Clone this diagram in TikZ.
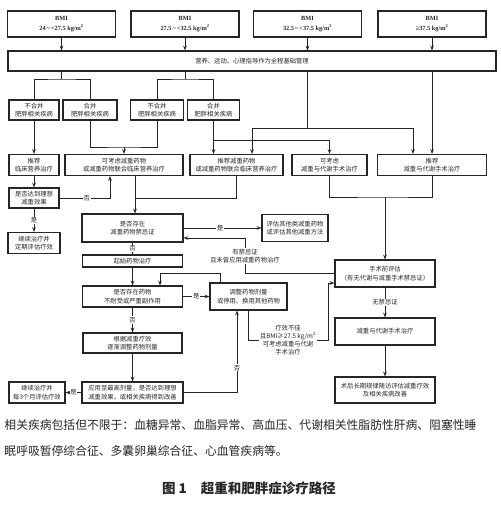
\documentclass[tikz,border=0pt]{standalone}
\usepackage{fontspec}
\setmainfont{Noto Sans CJK SC}
\newfontfamily\bmifont{Liberation Serif}
\usetikzlibrary{arrows.meta}

\begin{document}
\begin{tikzpicture}[x=1pt,y=-1pt,>={Stealth[length=4.8pt,width=3.6pt]},
  line width=0.95pt,color=black!85,
  flow/.style={draw,line width=1.05pt,align=center,inner sep=0pt,
    font=\fontsize{6.3}{8.6}\selectfont},
  bmibox/.style={flow,minimum width=108,minimum height=26,
    font=\bmifont\bfseries\fontsize{6.3}{9.5}\selectfont},
  tag/.style={fill=white,inner sep=0.8pt,align=center,
    font=\fontsize{6.3}{8}\selectfont}]
\useasboundingbox (0,0) rectangle (500,505);
\def\rh{21}
% ---- 四个 BMI 分组 + 基础管理 ----
\foreach \n/\x/\lbl in {bmiA/61.5/{24\,\textasciitilde\,<27.5},bmiB/185/{27.5\,\textasciitilde\,<32.5},
    bmiC/307.5/{32.5\,\textasciitilde\,<37.5},bmiD/432/{≥37.5}}{
  \node[bmibox] (\n) at (\x,24) {BMI\\\lbl\ kg/m\textsuperscript{2}};}
\node[flow,minimum width=488,minimum height=20] (base) at (252,61) {营养、运动、心理指导作为全程基础管理};
\foreach \n in {bmiA,bmiB,bmiC,bmiD}{
  \draw[->] (\n.south) -- (\n.south |- base.north);}
% ---- 是否合并相关疾病 ----
\node[flow,minimum width=50,minimum height=20] (nA) at (34,110) {不合并\\肥胖相关疾病};
\node[flow,minimum width=54,minimum height=20] (nB) at (90,110) {合并\\肥胖相关疾病};
\node[flow,minimum width=53,minimum height=20] (nC) at (157,110) {不合并\\肥胖相关疾病};
\node[flow,minimum width=52,minimum height=20] (nD) at (213.5,110) {合并\\肥胖相关疾病};
\coordinate (jA) at (61.5,79);
\coordinate (jB) at (185,79);
\draw (bmiA.south |- base.south) -- (jA);
\draw (bmiB.south |- base.south) -- (jB);
\draw (nA.north) |- (jA) -| (nB.north);
\draw (nC.north) |- (jB) -| (nD.north);
% ---- 治疗建议 ----
\node[flow,minimum width=50,minimum height=\rh] (tA) at (34,165) {推荐\\临床营养治疗};
\node[flow,minimum width=118,minimum height=\rh] (tB) at (124,165) {可考虑减重药物\\或减重药物联合临床营养治疗};
\node[flow,minimum width=93,minimum height=\rh] (tC) at (236.5,165) {推荐减重药物\\或减重药物联合临床营养治疗};
\node[flow,minimum width=75,minimum height=\rh] (tD) at (329.5,165) {可考虑\\减重与代谢手术治疗};
\node[flow,minimum width=109,minimum height=\rh] (tE) at (432,165) {推荐\\减重与代谢手术治疗};
\draw[->] (nA.south) -- (tA.north);
\coordinate (jC) at (124,147);
\draw (nB.south) |- (jC) -| (nC.south);
\draw[->] (jC) -- (tB.north);
\draw[->] (nD.south) -- (nD.south |- tC.north);
\coordinate (jD) at (213.5,140);
\draw[->] (jD) -| (tD.north);
\coordinate (jE) at (307.5,128);
\coordinate (jE1) at (252,128);
\coordinate (jE2) at (413,128);
\draw (bmiC.south |- base.south) -- (jE);
\draw (jE1) -- (jE2);
\draw[->] (jE1) -- (jE1 |- tC.north);
\draw[->] (jE2) -- (jE2 |- tE.north);
\draw[->] (bmiD.south |- base.south) -- (tE.north);
% ---- 营养治疗分支 ----
\node[flow,minimum width=50,minimum height=20] (goalA) at (34,198) {是否达到理想\\减重效果};
\node[flow,minimum width=52,minimum height=\rh] (keepA) at (34,243) {继续治疗并\\定期评估疗效};
\draw[->] (tA.south) -- (goalA.north);
\draw[->] (goalA.south) -- node[tag]{是} (keepA.north);
\draw[->] (goalA.east) -| node[tag,pos=0.27]{否} ([xshift=-14pt]tB.south);
% ---- 药物治疗分支 ----
\node[flow,minimum width=101,minimum height=28] (contra) at (132.5,228) {是否存在\\减重药物禁忌证};
\node[flow,minimum width=66,minimum height=27] (other) at (295,228) {评估其他类减重药物\\或评估其他减重方法};
\coordinate (jF) at (135,198);
\draw (tC.south) |- (jF);
\draw[->] (jF |- tB.south) -- (jF |- contra.north);
\draw[->] (contra.east) -- node[tag,pos=0.47]{是} (other.west);
\node[flow,minimum width=100,minimum height=12] (start) at (132.5,261) {起始药物治疗};
\node[flow,minimum width=100,minimum height=\rh] (intol) at (132.5,296.5) {是否存在药物\\不耐受或严重副作用};
\node[flow,minimum width=77,minimum height=27] (adjust) at (248.5,296.5) {调整药物剂量\\或停用、换用其他药物};
\node[flow,minimum width=99,minimum height=20] (dose) at (132.5,343) {根据减重疗效\\逐渐调整药物剂量};
\node[flow,minimum width=101,minimum height=\rh] (maxd) at (132.5,392.5) {应用至最高剂量，是否达到理想\\减重效果，或相关疾病得到改善};
\node[flow,minimum width=56,minimum height=\rh] (keepB) at (37,392.5) {继续治疗并\\每3个月评估疗效};
\draw[->] (contra.south) -- node[tag]{否} (start.north);
\draw[->] (start.south) -- (intol.north);
\draw[->] (intol.east) -- node[tag]{是} (adjust.west);
\coordinate (jI) at (160,273);
\coordinate (jJ) at (220,273);
\draw[->] (jJ |- adjust.north) -- (jJ) -- (jI) -- (jI |- intol.north);
\draw[->] (intol.south) -- node[tag]{否} (dose.north);
\draw[->] (dose.south) -- (maxd.north);
\draw[->] (maxd.west) -- node[tag]{是} (keepB.east);
\draw[->] (maxd.east) -| node[tag,pos=0.65]{否} ([xshift=-11.5pt]adjust.south);
% ---- 手术分支 ----
\node[flow,minimum width=100,minimum height=27] (pre) at (385,273.5) {手术前评估\\（有无代谢与减重手术禁忌证）};
\node[flow,minimum width=100,minimum height=27] (surg) at (385,331.5) {减重与代谢手术治疗};
\node[flow,minimum width=100,minimum height=26] (follow) at (385,390) {术后长期规律随访评估减重疗效\\及相关疾病改善};
\coordinate (jH) at (385,197);
\draw (tD.south) |- (jH) -| (tE.south);
\draw[->] (jH) -- (pre.north);
\coordinate (jG) at (245,238);
\draw[->] (pre.west) -| (jG) -- (jG -| contra.east);
\node[tag] (ban) at (245,256) {有禁忌证\\且未曾应用减重药物治疗};
\coordinate (jL) at (248.5,340);
\coordinate (jK) at (328,283);
\draw[->] (adjust.south) -- (jL) -| (jK) -- (jK -| pre.west);
\node[tag] (poor) at (288,340) {疗效不佳\\且BMI≥27.5 kg/m\textsuperscript{2}\\可考虑减重与代谢\\手术治疗};
\draw[->] (pre.south) -- node[tag]{无禁忌证} (surg.north);
\draw[->] (surg.south) -- (follow.north);
% ---- 注释与图题 ----
\node[anchor=west,align=left,inner sep=0pt,font=\fontsize{11.8}{26}\selectfont] (note) at (4,438)
  {相关疾病包括但不限于：血糖异常、血脂异常、高血压、代谢相关性脂肪性肝病、阻塞性睡\\眠呼吸暂停综合征、多囊卵巢综合征、心血管疾病等。};
\node[font=\fontsize{13.5}{16}\selectfont\bfseries] (cap) at (249,488) {图 1\hspace{14pt}超重和肥胖症诊疗路径};
\end{tikzpicture}
\end{document}
